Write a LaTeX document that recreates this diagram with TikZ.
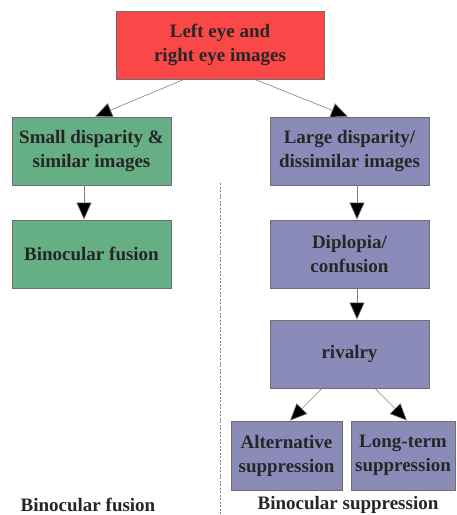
\documentclass[tikz,border=0pt]{standalone}
\usepackage{fontspec}
\setmainfont{Liberation Serif}
\usetikzlibrary{arrows.meta}
\definecolor{boxred}{RGB}{250,72,72}
\definecolor{boxgreen}{RGB}{102,174,132}
\definecolor{boxpurple}{RGB}{139,139,186}
\definecolor{edgegrey}{RGB}{110,110,110}
\begin{document}
\begin{tikzpicture}[x=1pt,y=-1pt,
  box/.style={draw=edgegrey,line width=0.8pt,minimum width=159pt,minimum height=68pt,
    align=center,font=\fontsize{19}{24}\selectfont\bfseries,text=black!85,inner sep=0pt},
  arr/.style={draw=gray,line width=0.6pt,-{Triangle[length=17pt,width=15pt,fill=black]}},
  lbl/.style={font=\fontsize{19}{22}\selectfont\bfseries,text=black!85}]
\useasboundingbox (0,0) rectangle (456,515);
\node[box,fill=boxred,minimum width=208pt] (top) at (220,45) {Left eye and\\right eye images};
\node[box,fill=boxgreen] (small) at (91.5,151) {Small disparity \&\\similar images};
\node[box,fill=boxpurple] (large) at (349.5,151) {Large disparity/\\dissimilar images};
\node[box,fill=boxgreen] (fusion) at (91.5,254) {Binocular fusion};
\node[box,fill=boxpurple] (dip) at (349.5,254) {Diplopia/\\confusion};
\node[box,fill=boxpurple] (riv) at (349.5,354) {rivalry};
\node[box,fill=boxpurple,minimum width=111pt,minimum height=69pt] (alt) at (286.5,455.5) {Alternative\\suppression};
\node[box,fill=boxpurple,minimum width=104pt,minimum height=69pt] (long) at (403,455.5) {Long-term\\suppression};
\node[lbl] (lf) at (88,505) {Binocular fusion};
\node[lbl] (ls) at (348,505) {Binocular suppression};
\coordinate (d1) at (220,183);
\coordinate (d2) at (220,515);
\draw[gray,line width=0.7pt,dash pattern=on 2pt off 1.5pt] (d1) -- (d2);
\draw[arr] (top.south -| 184,0) -- (small.north -| 95,0);
\draw[arr] (top.south -| 255,0) -- (large.north -| 348,0);
\draw[arr] (small.south -| 84,0) -- (fusion.north -| 84,0);
\draw[arr] (large.south -| 357,0) -- (dip.north -| 357,0);
\draw[arr] (dip.south -| 357,0) -- (riv.north -| 357,0);
\draw[arr] (riv.south -| 322,0) -- (alt.north -| 290,0);
\draw[arr] (riv.south -| 375,0) -- (long.north -| 407,0);
\end{tikzpicture}
\end{document}
